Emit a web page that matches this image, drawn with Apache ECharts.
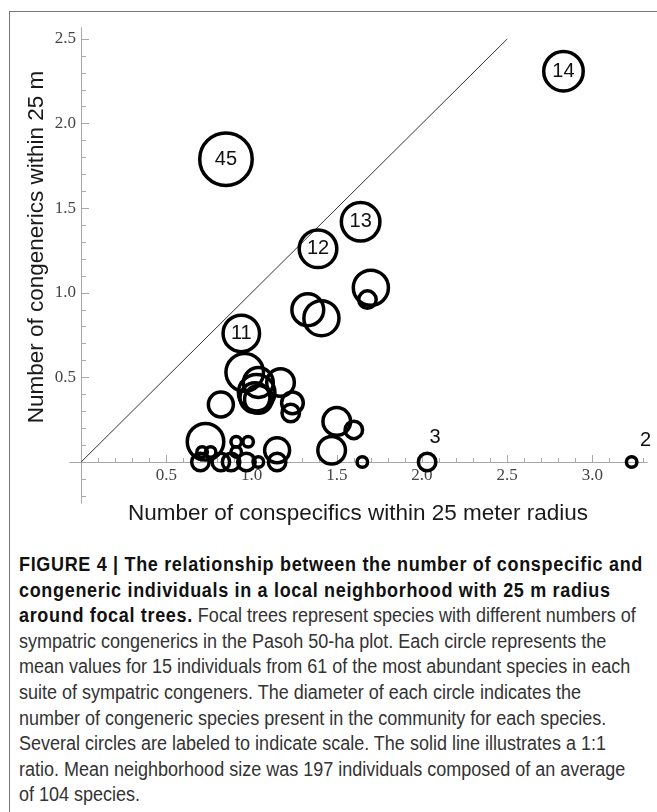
<!DOCTYPE html>
<html><head><meta charset="utf-8">
<script src="https://cdn.jsdelivr.net/npm/echarts@6/dist/echarts.min.js"></script>
<style>
html,body{margin:0;padding:0;background:#fff;width:657px;height:812px;overflow:hidden;position:relative;}
#frame{position:absolute;left:9px;top:11px;width:700px;height:900px;border-left:1.5px solid #777;border-top:1.5px solid #777;z-index:5;pointer-events:none;}
#chart{position:absolute;left:0;top:0;width:657px;height:540px;}
#caption{position:absolute;left:19px;top:552px;font-family:"Liberation Sans",Arial,sans-serif;font-size:20px;line-height:25.6px;color:#333;transform:scaleX(0.9);transform-origin:0 0;white-space:nowrap;}
#caption b{font-weight:bold;color:#111;letter-spacing:0.75px;}
</style></head><body>
<div id="frame"></div>
<div id="chart"></div>
<div id="caption"><b>FIGURE 4 | The relationship between the number of conspecific and</b><br><b>congeneric individuals in a local neighborhood with 25 m radius</b><br><b>around focal trees.</b> Focal trees represent species with different numbers of<br>sympatric congenerics in the Pasoh 50-ha plot. Each circle represents the<br>mean values for 15 individuals from 61 of the most abundant species in each<br>suite of sympatric congeners. The diameter of each circle indicates the<br>number of congeneric species present in the community for each species.<br>Several circles are labeled to indicate scale. The solid line illustrates a 1:1<br>ratio. Mean neighborhood size was 197 individuals composed of an average<br>of 104 species.</div>
<script>
// ---- data ----
const conspecifics = [0.85, 2.83, 1.64, 1.39, 0.94, 2.03, 3.23,
  1.70, 1.68, 1.33, 1.41, 0.96, 0.82, 1.17,
  1.04, 1.03, 1.02, 1.04, 1.24, 1.23,
  0.73, 0.71, 0.76, 0.70, 0.82, 0.88, 0.91, 0.98, 0.91, 0.97, 1.04, 1.15, 1.15,
  1.50, 1.60, 1.47, 1.65];
const congenericsNear = [1.79, 2.31, 1.42, 1.26, 0.76, 0.00, 0.00,
  1.03, 0.96, 0.90, 0.85, 0.53, 0.34, 0.47,
  0.47, 0.41, 0.38, 0.37, 0.35, 0.29,
  0.12, 0.06, 0.06, 0.00, 0.00, 0.00, 0.12, 0.12, 0.06, 0.00, 0.00, 0.07, 0.00,
  0.24, 0.19, 0.07, 0.00];
const congenerSpecies = [45, 14, 13, 12, 11, 3, 2,
  10, 3, 8, 10, 12, 5, 6,
  7, 11, 7, 6, 4, 3,
  11, 2, 2, 3, 3, 3, 2, 2, 2, 3, 2, 5, 3,
  6, 3, 6, 2];
const circleLabels = ['45', '14', '13', '12', '11', '3', '2'];
const oneToOne = [[0, 0], [2.5, 2.5]];
const xMajorTicks = [0.5, 1.0, 1.5, 2.0, 2.5, 3.0];
const yMajorTicks = [0.5, 1.0, 1.5, 2.0, 2.5];
const xTitle = 'Number of conspecifics within 25 meter radius';
const yTitle = 'Number of congenerics within 25 m';

// ---- styles ----
const STROKE = 3.5;
const sizeAnchors = [[2, 14], [3, 21], [11, 40], [14, 43], [45, 56]]; // species count -> outer diameter (px)
function outerDiameter(n) {
  const l = Math.log(n);
  for (let i = 0; i < sizeAnchors.length - 1; i++) {
    const a = sizeAnchors[i], b = sizeAnchors[i + 1];
    const la = Math.log(a[0]), lb = Math.log(b[0]);
    if (l <= lb || i === sizeAnchors.length - 2) {
      return a[1] + (b[1] - a[1]) * (l - la) / (lb - la);
    }
  }
}
const outsideLabelOffset = {'3': [8, -25], '2': [14, -22]};
function minorList(from, to, majors) {
  const out = [];
  for (let k = Math.round(from * 10); k <= Math.round(to * 10); k++) {
    const v = +(k / 10).toFixed(1);
    if (v === 0 || majors.indexOf(v) >= 0) continue;
    out.push(v);
  }
  return out;
}
const xMinorTicks = minorList(0.1, 3.3, xMajorTicks);
const yMinorTicks = minorList(-0.2, 2.5, yMajorTicks);

const AX = '#a8a8a8';
const serif = '"Liberation Serif","Times New Roman",serif';
const sans = '"Liberation Sans",Arial,sans-serif';
const xMin = -0.065, xMax = 3.32, yMin = -0.242, yMax = 2.565;
const G = {left: 70, right: 10, top: 28, bottom: 37};
const CH = 540;

const scatterData = conspecifics.map((x, i) => {
  const lab = circleLabels[i] || '';
  const item = {value: [x, congenericsNear[i], congenerSpecies[i]]};
  if (outsideLabelOffset[lab]) {
    item.label = {position: 'inside', offset: outsideLabelOffset[lab]};
  }
  return item;
});

function xAxisDef(major, offset) {
  return {type: 'value', min: xMin, max: xMax, position: 'bottom', offset: offset,
    axisLine: {show: true, onZero: false, lineStyle: {color: AX, width: 1}},
    axisTick: {show: true, inside: true, length: major ? 7 : 4, customValues: major ? xMajorTicks : xMinorTicks, lineStyle: {color: AX}},
    axisLabel: major ? {show: true, customValues: xMajorTicks, formatter: v => v.toFixed(1), fontFamily: serif, fontSize: 17, color: '#444', margin: 5} : {show: false},
    splitLine: {show: false}};
}
function yAxisDef(major, offset) {
  return {type: 'value', min: yMin, max: yMax, position: 'left', offset: offset,
    axisLine: {show: true, onZero: false, lineStyle: {color: AX, width: 1}},
    axisTick: {show: true, inside: true, length: major ? 8 : 5, customValues: major ? yMajorTicks : yMinorTicks, lineStyle: {color: AX}},
    axisLabel: major ? {show: true, customValues: yMajorTicks, formatter: v => v.toFixed(1), fontFamily: serif, fontSize: 17, color: '#444', margin: 5} : {show: false},
    splitLine: {show: false}};
}

const chart = echarts.init(document.getElementById('chart'), null, {renderer: 'canvas'});
function build(offX, offY) {
  return {
    animation: false,
    grid: {left: G.left, right: G.right, top: G.top, bottom: G.bottom, containLabel: false, outerBoundsMode: 'none'},
    xAxis: [xAxisDef(true, offY), xAxisDef(false, offY)],
    yAxis: [yAxisDef(true, offX), yAxisDef(false, offX)],
    graphic: [
      {type: 'text', x: 358, y: 514, silent: true,
        style: {text: xTitle, font: '22.5px ' + sans, fill: '#1a1a1a', textAlign: 'center', textVerticalAlign: 'middle'}},
      {type: 'text', x: 37, y: 247, rotation: Math.PI / 2, silent: true,
        style: {text: yTitle, font: '22.5px ' + sans, fill: '#1a1a1a', textAlign: 'center', textVerticalAlign: 'middle'}}
    ],
    series: [
      {type: 'line', data: oneToOne, symbol: 'none', silent: true, z: 1,
        lineStyle: {color: '#333', width: 1}},
      {type: 'scatter', data: scatterData, symbol: 'circle', z: 2, silent: true,
        symbolSize: v => outerDiameter(v[2]) - STROKE,
        itemStyle: {color: 'rgba(0,0,0,0)', borderColor: '#000', borderWidth: STROKE, opacity: 1},
        label: {show: true, position: 'inside', formatter: p => circleLabels[p.dataIndex] || '',
          fontFamily: sans, fontSize: 20, color: '#111'},
        emphasis: {disabled: true}}
    ]
  };
}
chart.setOption(build(0, 0));
// move the axes onto the zero lines, using the chart's own scale
const origin = chart.convertToPixel({gridIndex: 0}, [0, 0]);
const offX = -(origin[0] - G.left);
const offY = -((CH - G.bottom) - origin[1]);
chart.setOption(build(offX, offY));
</script>
</body></html>
